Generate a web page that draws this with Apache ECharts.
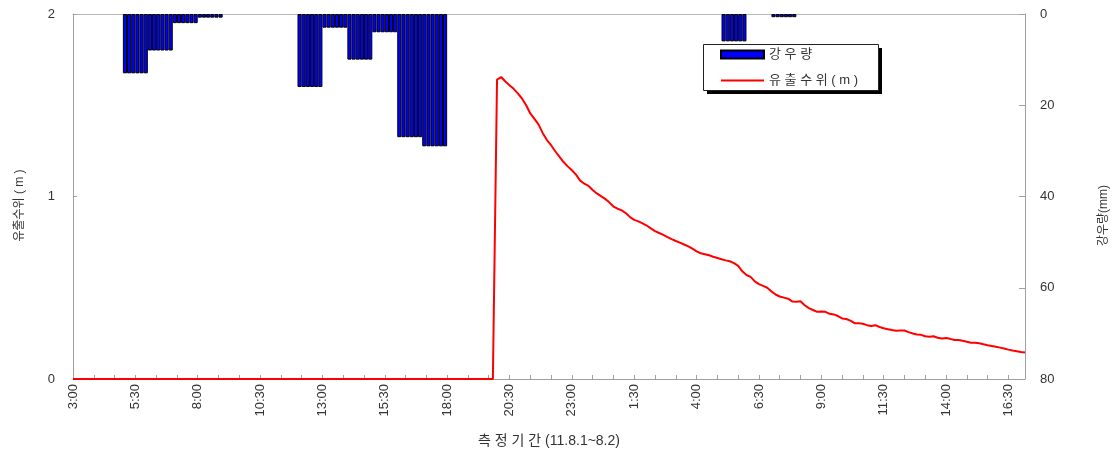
<!DOCTYPE html>
<html>
<head>
<meta charset="utf-8">
<script src="https://cdn.jsdelivr.net/npm/echarts@6/dist/echarts.min.js"></script>
<style>html,body{margin:0;padding:0;background:#fff}#c{width:1118px;height:451px}</style>
</head>
<body>
<div id="c"></div>
<script>
// ---- data ----
// 10-minute time steps, 11.8.1 03:00 -> 11.8.2 17:10
const startDay = 1, startHour = 3, stepMin = 10, nSteps = 230;
const times = [];
for (let i = 0; i < nSteps; i++) {
  const m = startHour * 60 + i * stepMin;
  const d = startDay + Math.floor(m / 1440);
  const mm = m % 1440;
  times.push('8/' + d + ' ' + Math.floor(mm / 60) + ':' + String(mm % 60).padStart(2, '0'));
}
// hourly rainfall (mm), each hour shown as its six 10-minute bars
const rainHours = ['8/1 5:00','8/1 6:00','8/1 7:00','8/1 8:00','8/1 12:00','8/1 13:00','8/1 14:00','8/1 15:00','8/1 16:00','8/1 17:00','8/2 5:00','8/2 7:00'];
const rainMm    = [13, 8, 2, 0.8, 16, 3, 10, 4, 27, 29, 6, 0.7];
// outflow water level (m) at each 10-minute step
const level = [
0,0,0,0,0,0,0,0,0,0,0,0,0,0,0,0,0,0,0,0,0,0,0,0,0,0,0,0,0,0,0,0,0,0,0,0,0,0,0,0,0,0,0,0,0,0,0,0,0,0,
0,0,0,0,0,0,0,0,0,0,0,0,0,0,0,0,0,0,0,0,0,0,0,0,0,0,0,0,0,0,0,0,0,0,0,0,0,0,0,0,0,0,0,0,0,0,0,0,0,0,
0,0,
1.64,1.655,1.63,1.61,1.59,1.565,1.537,1.50,1.455,1.425,1.394,1.347,1.309,1.281,1.248,1.218,1.189,1.165,1.144,1.12,
1.087,1.07,1.058,1.036,1.017,1.002,0.987,0.968,0.945,0.933,0.924,0.908,0.887,0.872,0.864,0.853,0.841,0.825,0.81,0.80,
0.79,0.778,0.766,0.756,0.747,0.737,0.727,0.714,0.699,0.689,0.684,0.678,0.670,0.663,0.656,0.65,0.645,0.635,0.62,0.59,
0.57,0.56,0.535,0.52,0.51,0.50,0.48,0.463,0.452,0.446,0.44,0.425,0.423,0.426,0.404,0.388,0.378,0.368,0.37,0.368,
0.357,0.354,0.345,0.332,0.329,0.32,0.306,0.305,0.303,0.295,0.29,0.295,0.285,0.278,0.273,0.268,0.265,0.266,0.266,0.257,
0.249,0.244,0.242,0.234,0.231,0.234,0.226,0.222,0.225,0.22,0.214,0.214,0.21,0.204,0.199,0.199,0.196,0.19,0.185,0.181,
0.177,0.172,0.167,0.161,0.156,0.152,0.148,0.145
];
const levelTicks = [0, 1, 2];
const rainTicks = [0, 20, 40, 60, 80];

// bars occupy each 10-minute interval (band between consecutive time steps)
const bands = times.slice(0, times.length - 1);
const rainBars = bands.map(t => {
  const hourKey = t.split(':')[0] + ':00';
  const k = rainHours.indexOf(hourKey);
  return k >= 0 ? rainMm[k] : null;
});

const FONT = "'Liberation Sans','Noto Sans CJK KR',sans-serif";
const chart = echarts.init(document.getElementById('c'), null, {renderer: 'canvas'});
chart.setOption({
  animation: false,
  backgroundColor: '#fff',
  textStyle: {fontFamily: FONT},
  grid: {left: 73, right: 93, top: 14, bottom: 72, outerBoundsMode: 'none', containLabel: false},
  graphic: [
    {type: 'rect', left: 707, top: 48, z: 1, shape: {width: 175, height: 46}, style: {fill: '#000'}},
    {type: 'rect', left: 703, top: 44, z: 2, shape: {width: 175, height: 46}, style: {fill: '#fff', stroke: '#222', lineWidth: 1}}
  ],
  legend: {
    orient: 'vertical', left: 703, top: 44, z: 10,
    padding: [4, 14, 4, 17], itemGap: 13,
    itemWidth: 43, itemHeight: 8,
    textStyle: {fontSize: 13, color: '#333', fontFamily: FONT},
    data: [
      {name: '강 우 량', icon: 'rect'},
      {name: '유 출 수 위 ( m )', icon: 'path://M0,0 L43,0 L43,2 L0,2 Z', itemStyle: {color: '#ff0000', borderWidth: 0}}
    ]
  },
  xAxis: [{
    type: 'category', data: times, boundaryGap: false, position: 'bottom',
    name: '측 정 기 간 (11.8.1~8.2)', nameLocation: 'middle', nameGap: 55,
    nameTextStyle: {fontSize: 14, color: '#333'},
    axisLine: {lineStyle: {color: '#a0a0a0', width: 1}},
    axisTick: {inside: true, length: 4, interval: 4, lineStyle: {color: '#a0a0a0'}},
    axisLabel: {interval: 14, rotate: 90, margin: 5, fontSize: 13, color: '#333',
      formatter: v => v.split(' ')[1]},
    splitLine: {show: false}
  }, {
    type: 'category', data: bands, boundaryGap: true, position: 'top',
    axisLine: {lineStyle: {color: '#b8b8b8', width: 1}},
    axisTick: {show: false}, axisLabel: {show: false}, splitLine: {show: false}
  }],
  yAxis: [{
    type: 'value', min: levelTicks[0], max: levelTicks[levelTicks.length - 1], interval: 1, position: 'left',
    name: '유출수위 ( m )', nameLocation: 'middle', nameGap: 47, nameRotate: 90,
    nameTextStyle: {fontSize: 12, color: '#333', padding: [0, 18, 0, 0]},
    axisLine: {show: true, lineStyle: {color: '#a0a0a0'}},
    axisTick: {show: true, inside: true, length: 4, lineStyle: {color: '#a0a0a0'}},
    axisLabel: {fontSize: 13, color: '#333', margin: 18},
    splitLine: {show: false}
  }, {
    type: 'value', min: rainTicks[0], max: rainTicks[rainTicks.length - 1], interval: 20, position: 'right', inverse: true,
    name: '강우량(mm)', nameLocation: 'middle', nameGap: 73, nameRotate: 90,
    nameTextStyle: {fontSize: 12, color: '#333', padding: [0, 38, 0, 0]},
    axisLine: {show: true, lineStyle: {color: '#a0a0a0'}},
    axisTick: {show: true, inside: true, length: 6, lineStyle: {color: '#a0a0a0'}},
    axisLabel: {fontSize: 13, color: '#333', margin: 15},
    splitLine: {show: false}
  }],
  series: [{
    name: '강 우 량', type: 'bar', xAxisIndex: 1, yAxisIndex: 1,
    data: rainBars, barWidth: '100%', barCategoryGap: 0,
    itemStyle: {color: '#0000ff', borderColor: '#000', borderWidth: 1}
  }, {
    name: '유 출 수 위 ( m )', type: 'line', xAxisIndex: 0, yAxisIndex: 0,
    data: level, symbol: 'none', showSymbol: false,
    lineStyle: {color: '#ff0000', width: 2}, itemStyle: {color: '#ff0000'}
  }]
});
</script>
</body>
</html>
